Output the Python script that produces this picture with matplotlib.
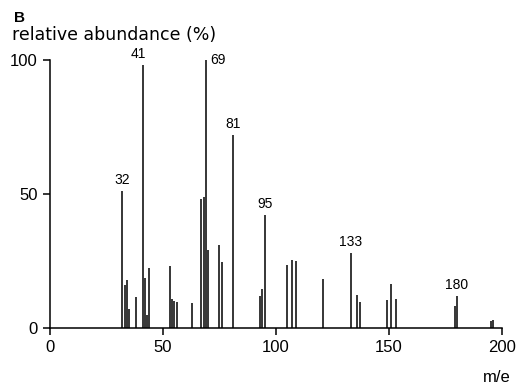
import matplotlib
matplotlib.use("Agg")
import matplotlib.pyplot as plt

plt.rcParams['font.family'] = ['Liberation Sans', 'DejaVu Sans']

# m/e values and relative abundances (%)
mz = [32, 33, 34, 35, 38, 41, 42, 43, 44, 53, 54, 55, 56, 63, 67, 68, 69, 70,
      75, 76, 81, 93, 94, 95, 105, 107, 109, 121, 133, 136, 137, 149, 151, 153,
      179, 180, 195, 196]
abund = [51, 16, 18, 7, 11.5, 98, 18.5, 5, 22.5, 23, 11, 10, 9.7, 9.3, 48, 49, 100, 29,
         31, 24.5, 72, 12, 14.6, 42, 23.5, 25.2, 25, 18.3, 27.9, 12.3, 9.8, 10.3, 16.4, 10.8,
         8.2, 12, 2.7, 3]

labelled = [32, 41, 69, 81, 95, 133, 180]
x_ticks = [0, 50, 100, 150, 200]
y_ticks = [0, 50, 100]

fig = plt.figure(figsize=(5.17, 3.83), dpi=100)
ax = fig.add_axes([50/517, 55/383, 452/517, 268/383])

ax.vlines(mz, 0, abund, colors='black', linewidth=1.1)

ax.set_xlim(0, 200)
ax.set_ylim(0, 100)
ax.set_xticks(x_ticks)
ax.set_yticks(y_ticks)
ax.tick_params(axis='both', direction='out', length=5, width=1.1, labelsize=12, colors='black', pad=4)
for s in ['top', 'right']:
    ax.spines[s].set_visible(False)
for s in ['left', 'bottom']:
    ax.spines[s].set_linewidth(1.1)

for m, a in zip(mz, abund):
    if m in labelled:
        if m == 69:
            ax.annotate(str(m), (m, a), xytext=(4, 0), textcoords='offset pixels',
                        ha='left', va='center', fontsize=10)
        elif m == 41:
            ax.annotate(str(m), (m, a), xytext=(-4, 4), textcoords='offset pixels',
                        ha='center', va='bottom', fontsize=10)
        else:
            ax.annotate(str(m), (m, a), xytext=(0, 4), textcoords='offset pixels',
                        ha='center', va='bottom', fontsize=10)

fig.text(14/517, 1 - 22/383, "B", fontsize=11, fontweight='bold', ha='left', va='baseline')
fig.text(12/517, 1 - 40/383, "relative abundance (%)", fontsize=12.5, ha='left', va='baseline',
         family='DejaVu Sans')
fig.text(497/517, 1 - 377/383, "m/e", fontsize=12, ha='center', va='center')

fig.savefig("out.png", dpi=100)
